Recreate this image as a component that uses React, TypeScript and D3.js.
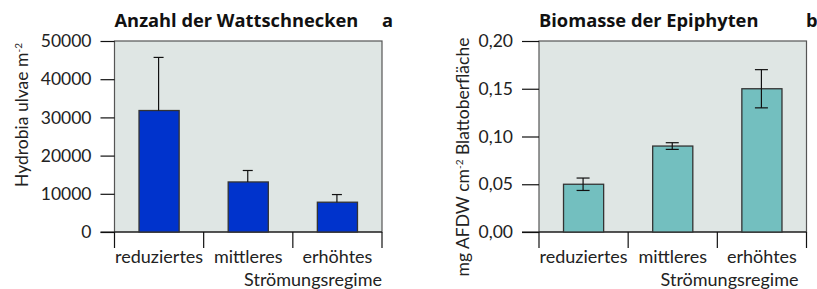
import React, { useEffect, useRef } from 'react'
import * as d3 from 'd3'

const categories = ['reduziertes', 'mittleres', 'erhöhtes']

// Panel a: Wattschnecken (Hydrobia ulvae m-2)
const snailValues = [31800, 13100, 7800]
const snailErrUp = [13900, 3000, 2000]
const snailTicks = [0, 10000, 20000, 30000, 40000, 50000]

// Panel b: Epiphyten biomass
const epiValues = [0.05, 0.09, 0.15]
const epiErr = [0.0065, 0.0035, 0.02]
const epiTicks = [0, 0.05, 0.1, 0.15, 0.2]

const FONT = 'Lato, "DejaVu Sans", sans-serif'
const TITLE_FONT = '"Open Sans", Lato, sans-serif'

const deLocale = d3.formatLocale({ decimal: ',', thousands: '.', grouping: [3], currency: ['', ' €'] })

function drawPanel(svg, opts) {
    const g = svg.append('g')
    const { left, right, top, bottom } = opts

    let y = d3.scaleLinear().domain(opts.domain).range([bottom, top])
    let x = d3.scaleBand().domain(categories).range([left, right]).padding(0)
    const bw = x.bandwidth() * 0.45

    // plot background
    g.append('rect')
        .attr('x', left).attr('y', top)
        .attr('width', right - left).attr('height', bottom - top)
        .attr('fill', '#dfe6e4')
        .attr('stroke', '#555')
        .attr('stroke-width', 1.2)

    // y axis
    let yAxis = d3.axisLeft(y)
        .tickValues(opts.ticks)
        .tickSize(opts.tickLen)
        .tickPadding(9)
        .tickFormat(opts.fmt)
    const ya = g.append('g').attr('transform', `translate(${left},0)`).call(yAxis)
    ya.select('.domain').remove()
    ya.selectAll('line').attr('stroke', '#111').attr('stroke-width', 1.2)
    ya.selectAll('text')
        .attr('font-family', FONT).attr('font-size', 17.5).attr('fill', '#222')

    // bottom axis line + separators
    g.append('line')
        .attr('x1', left - opts.tickLen).attr('x2', right)
        .attr('y1', bottom).attr('y2', bottom)
        .attr('stroke', '#111').attr('stroke-width', 1.2)
    const edges = categories.map(c => x(c)).concat([right])
    g.selectAll('.sep').data(edges).enter().append('line')
        .attr('x1', d => d).attr('x2', d => d)
        .attr('y1', bottom).attr('y2', bottom + 16)
        .attr('stroke', '#111').attr('stroke-width', 1.2)

    // bars
    g.selectAll('.bar').data(opts.values).enter().append('rect')
        .attr('x', (d, i) => x(categories[i]) + x.bandwidth() / 2 - bw / 2)
        .attr('y', d => y(d))
        .attr('width', bw)
        .attr('height', d => bottom - y(d))
        .attr('fill', opts.color)
        .attr('stroke', '#333')
        .attr('stroke-width', 1.3)

    // error bars
    opts.values.forEach((v, i) => {
        const cx = x(categories[i]) + x.bandwidth() / 2 + opts.errShift
        const hi = v + opts.errUp[i]
        const lo = opts.errDown ? v - opts.errDown[i] : v
        g.append('line')
            .attr('x1', cx).attr('x2', cx)
            .attr('y1', y(lo)).attr('y2', y(hi))
            .attr('stroke', '#111').attr('stroke-width', 1.2)
        g.append('line')
            .attr('x1', cx - opts.cap / 2).attr('x2', cx + opts.cap / 2)
            .attr('y1', y(hi)).attr('y2', y(hi))
            .attr('stroke', '#111').attr('stroke-width', 1.2)
        if (opts.errDown) {
            g.append('line')
                .attr('x1', cx - opts.cap / 2).attr('x2', cx + opts.cap / 2)
                .attr('y1', y(lo)).attr('y2', y(lo))
                .attr('stroke', '#111').attr('stroke-width', 1.2)
        }
    })

    // category labels
    g.selectAll('.cat').data(categories).enter().append('text')
        .attr('x', d => x(d) + x.bandwidth() / 2)
        .attr('y', bottom + 31)
        .attr('text-anchor', 'middle')
        .attr('font-family', FONT).attr('font-size', 18).attr('fill', '#222')
        .text(d => d)

    g.append('text')
        .attr('x', right - opts.xTitleInset)
        .attr('y', bottom + 54)
        .attr('text-anchor', 'end')
        .attr('font-family', FONT).attr('font-size', 18).attr('fill', '#222')
        .text('Strömungsregime')

    // title + panel letter
    g.append('text')
        .attr('x', left).attr('y', 27)
        .attr('font-family', TITLE_FONT).attr('font-size', 18.3).attr('font-weight', 'bold')
        .attr('fill', '#111')
        .text(opts.title)
    g.append('text')
        .attr('x', opts.letterX).attr('y', 27)
        .attr('font-family', TITLE_FONT).attr('font-size', 18.3).attr('font-weight', 'bold')
        .attr('fill', '#111')
        .text(opts.letter)

    // y label
    const yl = g.append('text')
        .attr('transform', `translate(${opts.yLabelX},${opts.yLabelY}) rotate(-90)`)
        .attr('text-anchor', 'middle')
        .attr('font-family', FONT).attr('font-size', 17.5).attr('fill', '#222')
    opts.yLabel.forEach(part => {
        yl.append('tspan')
            .attr('baseline-shift', part.sup ? 'super' : null)
            .attr('font-size', part.sup ? 10 : null)
            .text(part.t)
    })
}

export default function App() {
    const ref = useRef(null)

    useEffect(() => {
        const svg = d3.select(ref.current)
        svg.selectAll('*').remove()

        drawPanel(svg, {
            left: 114.5, right: 382, top: 41, bottom: 232,
            domain: [0, 50000], ticks: snailTicks, tickLen: 14,
            fmt: d3.format('d'),
            values: snailValues, errUp: snailErrUp, errDown: null,
            errShift: -0.5, cap: 10,
            color: '#0033cc',
            title: 'Anzahl der Wattschnecken', letter: 'a', letterX: 382,
            xTitleInset: 0,
            yLabelX: 28, yLabelY: 115,
            yLabel: [{ t: 'Hydrobia ulvae m' }, { t: '-2', sup: true }],
        })

        drawPanel(svg, {
            left: 539, right: 806.5, top: 41, bottom: 232,
            domain: [0, 0.2], ticks: epiTicks, tickLen: 17,
            fmt: deLocale.format('.2f'),
            values: epiValues, errUp: epiErr, errDown: epiErr,
            errShift: -0.5, cap: 13,
            color: '#73bfbf',
            title: 'Biomasse der Epiphyten', letter: 'b', letterX: 806,
            xTitleInset: 8,
            yLabelX: 469, yLabelY: 157,
            yLabel: [{ t: 'mg AFDW cm' }, { t: '-2', sup: true }, { t: ' Blattoberfläche' }],
        })
    }, [])

    return (
        <svg ref={ref} width={817} height={289}
            style={{ position: 'absolute', left: 0, top: 0, background: '#fff' }} />
    )
}
